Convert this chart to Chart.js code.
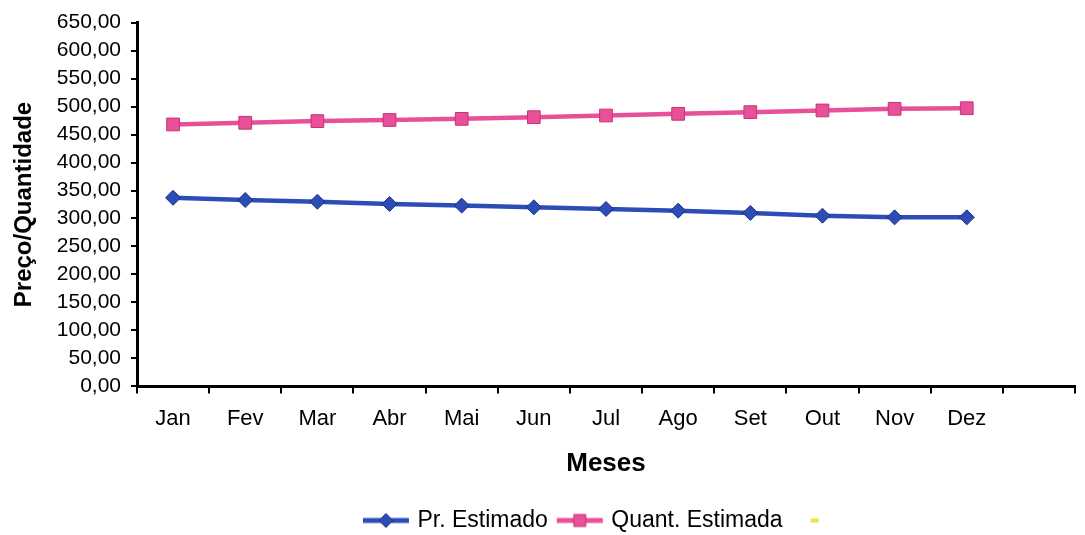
<!DOCTYPE html>
<html>
<head>
<meta charset="utf-8">
<script src="https://cdn.jsdelivr.net/npm/chart.js@4"></script>
<style>
  html, body { margin: 0; padding: 0; background: #ffffff; }
  #wrap { width: 1085px; height: 535px; position: relative; }
</style>
</head>
<body>
<div id="wrap"><canvas id="grafico" width="1085" height="535"></canvas></div>
<script>
// Meses do ano (a última posição fica vazia no eixo)
const meses = ['Jan', 'Fev', 'Mar', 'Abr', 'Mai', 'Jun', 'Jul', 'Ago', 'Set', 'Out', 'Nov', 'Dez', ''];

// Séries estimadas
const precoEstimado = [337, 333, 330, 326, 323, 320, 317, 314, 310, 305, 302, 302, null];
const quantEstimada = [468, 471, 474, 476, 478, 481, 484, 487, 490, 493, 496, 497, null];

// Eixo vertical
const eixoYMin = 0;
const eixoYMax = 650;
const eixoYPasso = 50;

const FONTE = "'Liberation Sans', Arial, sans-serif";

const AZUL = '#2b4db5';
const AZUL_BORDA = '#1b2f86';
const ROSA = '#e8509a';
const ROSA_BORDA = '#c93377';
const AMARELO = '#e6e63a';

// Ícone da legenda: segmento de linha com o marcador no meio
function iconeLegenda(cor, borda, forma, larguraLinha) {
  const c = document.createElement('canvas');
  c.width = 50; c.height = 18;
  const ctx = c.getContext('2d');
  if (forma === 'traco') {
    ctx.fillStyle = cor;
    ctx.fillRect(21, 7, 8, 4);
    return c;
  }
  ctx.strokeStyle = cor;
  ctx.lineWidth = larguraLinha;
  ctx.beginPath();
  ctx.moveTo(2, 9); ctx.lineTo(48, 9);
  ctx.stroke();
  ctx.fillStyle = cor;
  ctx.strokeStyle = borda;
  ctx.lineWidth = 1;
  ctx.beginPath();
  if (forma === 'losango') {
    ctx.moveTo(25, 2); ctx.lineTo(32, 9); ctx.lineTo(25, 16); ctx.lineTo(18, 9);
  } else {
    ctx.rect(19, 3, 12, 12);
  }
  ctx.closePath();
  ctx.fill();
  ctx.stroke();
  return c;
}

const icones = [
  iconeLegenda(AZUL, AZUL_BORDA, 'losango', 5),
  iconeLegenda(ROSA, ROSA_BORDA, 'quadrado', 5),
  iconeLegenda(AMARELO, AMARELO, 'traco', 0)
];

new Chart(document.getElementById('grafico'), {
  type: 'line',
  data: {
    labels: meses,
    datasets: [
      {
        label: 'Pr. Estimado',
        data: precoEstimado,
        borderColor: AZUL,
        backgroundColor: AZUL,
        borderWidth: 4.5,
        pointStyle: 'rectRot',
        pointRadius: 7.5,
        pointBackgroundColor: AZUL,
        pointBorderColor: AZUL_BORDA,
        pointBorderWidth: 1,
        tension: 0
      },
      {
        label: 'Quant. Estimada',
        data: quantEstimada,
        borderColor: ROSA,
        backgroundColor: ROSA,
        borderWidth: 4.5,
        pointStyle: 'rect',
        pointRadius: 9,
        pointBackgroundColor: ROSA,
        pointBorderColor: ROSA_BORDA,
        pointBorderWidth: 1,
        tension: 0
      },
      {
        label: '',
        data: [],
        borderColor: AMARELO,
        backgroundColor: AMARELO,
        pointRadius: 0
      }
    ]
  },
  options: {
    responsive: false,
    animation: false,
    events: [],
    layout: { padding: { left: 0, right: 4, top: 12, bottom: -7 } },
    plugins: {
      tooltip: { enabled: false },
      legend: {
        display: true,
        position: 'bottom',
        fullSize: false,
        labels: {
          font: { family: FONTE, size: 23 },
          color: '#000000',
          usePointStyle: true,
          pointStyleWidth: 40,
          boxHeight: 18,
          padding: 12,
          generateLabels(chart) {
            return chart.data.datasets.map((ds, i) => ({
              text: ds.label,
              fillStyle: ds.borderColor,
              strokeStyle: ds.borderColor,
              lineWidth: 0,
              pointStyle: icones[i],
              hidden: false,
              datasetIndex: i
            }));
          }
        }
      }
    },
    scales: {
      x: {
        type: 'category',
        offset: true,
        grid: {
          display: true,
          offset: true,
          drawOnChartArea: false,
          drawTicks: true,
          tickLength: 7,
          color: '#000000',
          lineWidth: 2
        },
        border: { display: true, color: '#000000', width: 3 },
        ticks: {
          font: { family: FONTE, size: 22 },
          color: '#000000',
          padding: 12,
          maxRotation: 0,
          autoSkip: false
        },
        title: {
          display: true,
          text: 'Meses',
          font: { family: FONTE, size: 26, weight: 'bold' },
          color: '#000000',
          padding: { top: 4, bottom: 18 }
        }
      },
      y: {
        min: eixoYMin,
        max: eixoYMax,
        grid: {
          display: true,
          drawOnChartArea: false,
          drawTicks: true,
          tickLength: 6,
          color: '#000000',
          lineWidth: 2
        },
        border: { display: true, color: '#000000', width: 3 },
        ticks: {
          stepSize: eixoYPasso,
          autoSkip: false,
          font: { family: FONTE, size: 21 },
          color: '#000000',
          padding: 10,
          callback: (v) => v.toFixed(2).replace('.', ',')
        },
        title: {
          display: true,
          text: 'Preço/Quantidade',
          font: { family: FONTE, size: 24, weight: 'bold' },
          color: '#000000',
          padding: { top: 10, bottom: 2 }
        },
        afterFit(scale) { scale.width = 137; }
      }
    }
  }
});
</script>
</body>
</html>
